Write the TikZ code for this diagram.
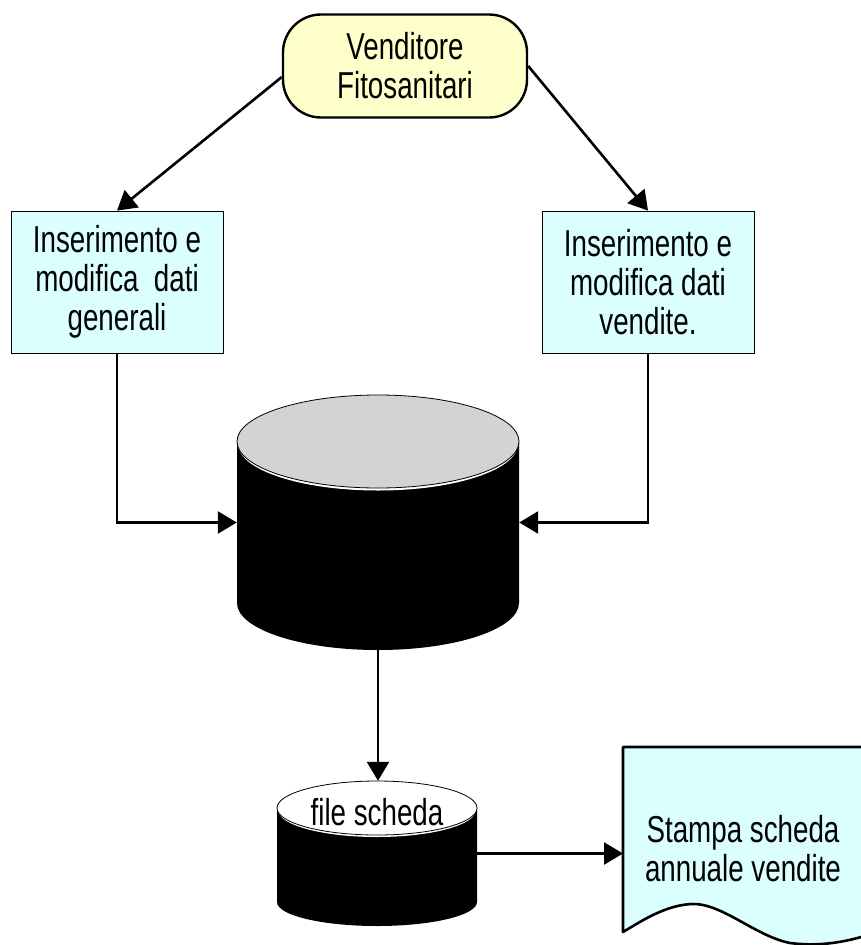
\documentclass[tikz,border=0pt]{standalone}
\usepackage{fontspec}
\setmainfont[FakeStretch=0.74]{Liberation Sans}
\usetikzlibrary{arrows.meta,calc}
\definecolor{cyanfill}{HTML}{DBFFFF}
\definecolor{yelfill}{HTML}{FFFFCC}
\definecolor{topgray}{HTML}{D3D3D3}
\tikzset{
  lbl/.style={font=\fontsize{37.5}{39}\selectfont, align=center},
  arr/.style={line width=2.6pt, -{Triangle[length=19pt,width=22pt]}},
  procbox/.style={lbl, draw, line width=0.8pt, fill=cyanfill, inner sep=0pt, minimum height=142pt, minimum width=212pt},
  term/.style={lbl, draw, line width=2.4pt, fill=yelfill, rounded corners=38pt, minimum width=244pt, minimum height=103pt},
  anchorbox/.style={inner sep=0pt}
}
\begin{document}
\begin{tikzpicture}[x=1pt,y=-1pt]
\useasboundingbox (0,0) rectangle (861,945);

% top terminal
\node[term] (top) at (405,66) {Venditore\\Fitosanitari};

% process boxes
\node[procbox] (lbox) at (117,282) {Inserimento e\\modifica\ \ dati\\generali};
\node[procbox] (rbox) at (648,282) {Inserimento e\\modifica dati\\vendite.};

% big database cylinder
\node[anchorbox, minimum width=282pt, minimum height=255pt] (db) at (378,522.5) {};
\fill[black] (237,441.5) -- (237,603) arc[start angle=180, end angle=360, x radius=141pt, y radius=47pt] -- (519,441.5) -- cycle;
\fill[white] (378,444) ellipse[x radius=140pt, y radius=46.5pt];
\draw[fill=topgray, line width=0.8pt] (378,441.5) ellipse[x radius=141pt, y radius=46.5pt];

% small file cylinder
\node[anchorbox, minimum width=200pt, minimum height=145pt] (fs) at (377,853.5) {};
\fill[black] (277,808) -- (277,902) arc[start angle=180, end angle=360, x radius=100pt, y radius=24pt] -- (477,808) -- cycle;
\fill[white] (377,810) ellipse[x radius=99pt, y radius=27pt];
\draw[fill=white, line width=0.8pt] (377,808) ellipse[x radius=100pt, y radius=27pt];
\node[lbl] (fstext) at (377,812) {file scheda};

% document
\begin{scope}
\clip (0,0) rectangle (861,945);
\draw[fill=cyanfill, line width=2.6pt, line join=round]
  (623,932) -- (623,747) -- (890,747) -- (890,928)
  .. controls (860,938) and (830,948) .. (790,943)
  .. controls (755,936) and (722,903) .. (692,904)
  .. controls (665,905) and (640,922) .. (623,932) -- cycle;
\end{scope}
\node[lbl] (doc) at (743,849) {Stampa scheda\\annuale vendite};
\coordinate (docin) at (623,855);

% connectors
\draw[arr] ([yshift=-11pt]top.west) -- (lbox.north);
\draw[arr] (top.east) -- (rbox.north);
\draw[arr] (lbox.south) |- (db.west);
\draw[arr] (rbox.south) |- (db.east);
\draw[arr] (db.south) -- (db.south |- fs.north);
\draw[arr] (fs.east) -- (fs.east -| docin);
\end{tikzpicture}
\end{document}
